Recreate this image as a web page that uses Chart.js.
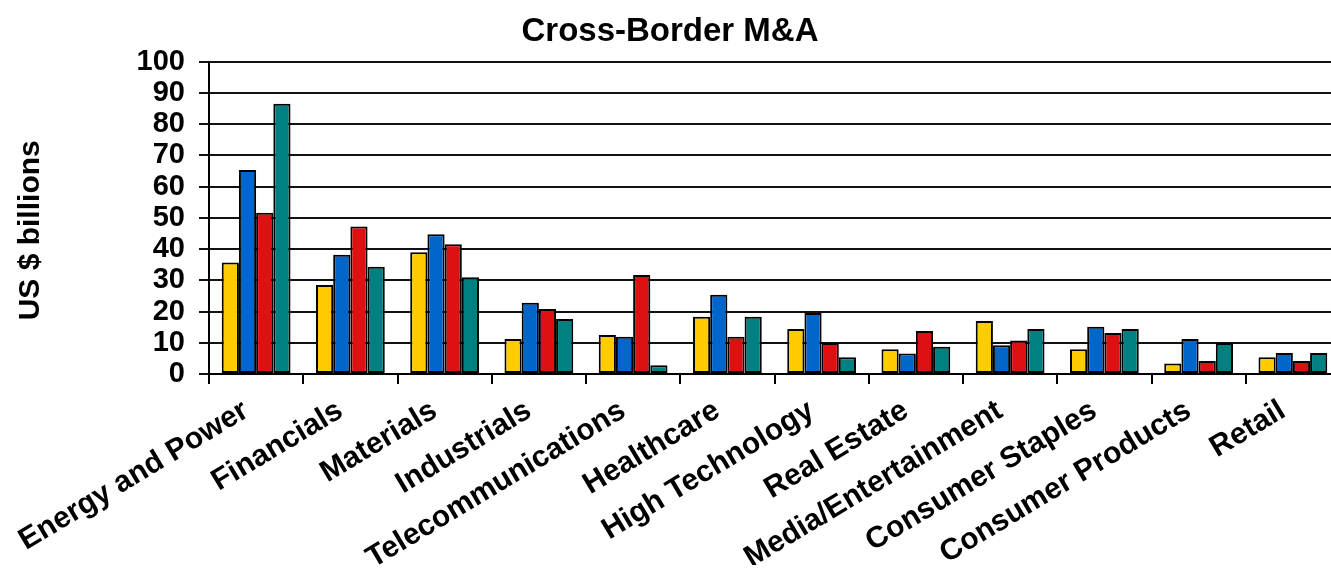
<!DOCTYPE html>
<html>
<head>
<meta charset="utf-8">
<script src="https://cdn.jsdelivr.net/npm/chart.js@4.4.1/dist/chart.umd.min.js"></script>
<style>
    html, body { margin: 0; padding: 0; background: #fff; overflow: hidden; }
    #wrap { width: 1342px; height: 571px; }
</style>
</head>
<body>
<div id="wrap"><canvas id="mnaChart"></canvas></div>
<script>
// Daten
const sectors = ['Energy and Power', 'Financials', 'Materials', 'Industrials', 'Telecommunications',
    'Healthcare', 'High Technology', 'Real Estate', 'Media/Entertainment', 'Consumer Staples',
    'Consumer Products', 'Retail'];
const seriesYellow = [35.7, 28.5, 39.0, 11.2, 12.5, 18.3, 14.4, 7.9, 17.0, 7.9, 3.4, 5.4];
const seriesBlue   = [65.3, 38.2, 44.7, 22.8, 11.9, 25.4, 19.5, 6.6, 9.2, 15.1, 11.2, 6.7];
const seriesRed    = [51.6, 47.2, 41.5, 20.8, 31.7, 11.9, 9.9, 13.8, 10.7, 13.1, 4.2, 4.2];
const seriesTeal   = [86.5, 34.3, 31.0, 17.6, 2.8, 18.3, 5.4, 8.7, 14.4, 14.4, 9.9, 6.7];
const yTicks = [0, 10, 20, 30, 40, 50, 60, 70, 80, 90, 100];

const fontFamily = '"Liberation Sans", Arial, sans-serif';

function barSet(label, data, color) {
    return {
        label: label,
        data: data,
        backgroundColor: color,
        borderColor: '#000',
        borderWidth: 2,
        borderSkipped: false,
        categoryPercentage: 0.73,
        barPercentage: 1.0
    };
}

const mnaChart = new Chart(document.getElementById('mnaChart'), {
    type: 'bar',
    data: {
        labels: sectors,
        datasets: [
            barSet('Series 1', seriesYellow, '#FFCC00'),
            barSet('Series 2', seriesBlue, '#0066CC'),
            barSet('Series 3', seriesRed, '#DD1111'),
            barSet('Series 4', seriesTeal, '#008080')
        ]
    },
    options: {
        responsive: true,
        maintainAspectRatio: false,
        animation: false,
        layout: { padding: { left: 0, right: 2, top: 4, bottom: 6 } },
        plugins: {
            legend: { display: false },
            tooltip: { enabled: false },
            title: {
                display: true,
                text: 'Cross-Border M&A',
                color: '#000',
                font: { family: fontFamily, size: 33, weight: 'bold' },
                padding: { top: 8, bottom: 10 },
                align: 'center'
            }
        },
        scales: {
            x: {
                afterFit: (scale) => { scale.height = 191; },  // Plotunterkante bei y=374
                grid: {
                    offset: true,
                    drawOnChartArea: false,
                    drawTicks: true,
                    tickLength: 10,
                    color: '#000',
                    lineWidth: 2
                },
                border: { color: '#000', width: 2 },
                ticks: {
                    autoSkip: false,
                    minRotation: 31,
                    maxRotation: 31,
                    padding: 9,
                    labelOffset: -10,
                    color: '#000',
                    font: { family: fontFamily, size: 30, weight: 'bold' }
                }
            },
            y: {
                min: 0,
                max: 100,
                afterFit: (scale) => { scale.width = 209; },  // Plotlinke Kante bei x=209
                afterBuildTicks: (scale) => {
                    scale.ticks = yTicks.map(v => ({ value: v }));
                },
                grid: {
                    color: '#111',
                    lineWidth: 2,
                    drawTicks: true,
                    tickLength: 10
                },
                border: { color: '#000', width: 2 },
                ticks: {
                    autoSkip: false,
                    padding: 14,
                    color: '#000',
                    font: { family: fontFamily, size: 29, weight: 'bold' }
                },
                title: {
                    display: true,
                    text: 'US $ billions   ',  // Leerzeichen schieben den Titel etwas nach unten
                    color: '#000',
                    font: { family: fontFamily, size: 30, weight: 'bold' },
                    padding: { top: 13, bottom: 0 }
                }
            }
        }
    }
});
</script>
</body>
</html>
